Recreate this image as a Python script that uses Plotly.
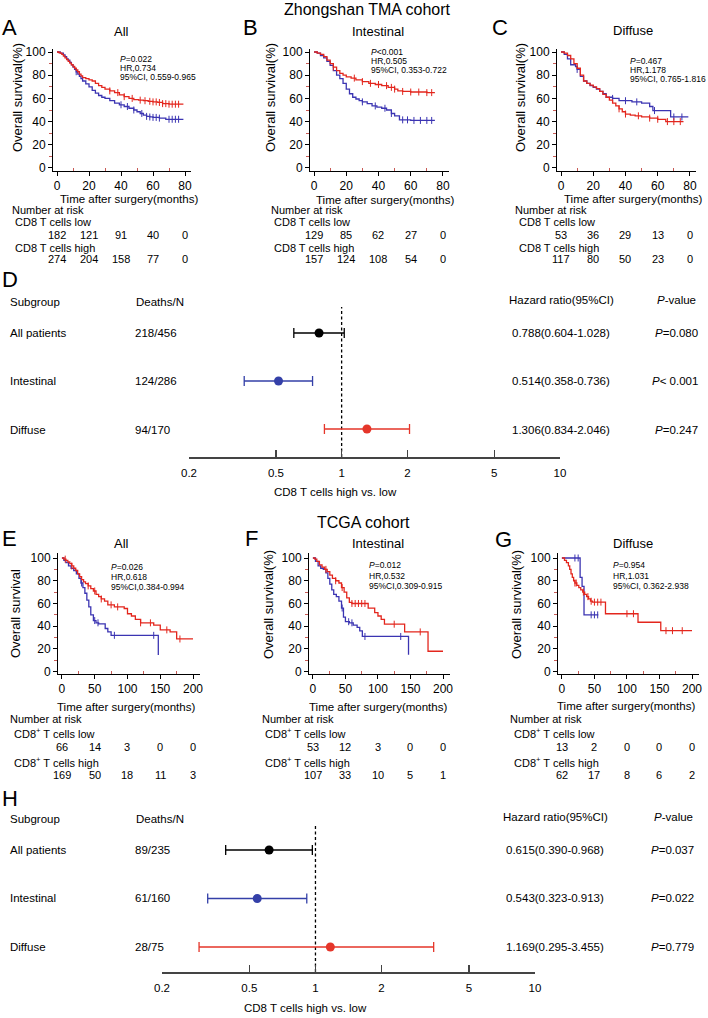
import numpy as np
import plotly.graph_objects as go

W, H = 708, 1018
FONT = "Liberation Sans, Arial, Helvetica, sans-serif"
RED = "#e3261d"
BLUE = "#3b34b2"
FBLUE = "#3440a8"
FRED = "#e5362a"

# ---------------- Kaplan-Meier data (months, survival %) ----------------
# Zhongshan TMA - All
A_low_t = [0, 2, 4, 5, 6, 7, 8, 9, 10, 11, 12, 13, 14, 15, 16, 18, 20, 22, 24, 26, 28, 30, 33, 36, 39, 42, 45, 48, 50, 52, 54, 56, 58, 60, 64, 68, 72, 79]
A_low_s = [100, 99, 97.5, 96, 94, 93, 91, 89, 87, 85, 83, 81, 79, 77, 75, 72.5, 70, 67, 64.5, 62.5, 61, 60, 58, 56, 54.5, 53, 51.5, 50, 48.5, 47, 45.5, 44.5, 44, 43.6, 43, 42, 42, 42]
A_low_c = [12, 40, 44, 48, 53, 56, 58, 60, 62, 64, 70, 72, 74, 76]
A_high_t = [0, 1, 2, 3, 4, 5, 6, 7, 8, 9, 10, 11, 12, 13, 14, 15, 16, 18, 20, 22, 24, 26, 28, 30, 33, 36, 39, 42, 45, 48, 51, 54, 57, 60, 63, 66, 70, 74, 79]
A_high_s = [100, 99.6, 99, 98, 96.5, 95, 93.5, 92, 90.5, 89, 87.5, 86, 84.5, 83, 81, 79.5, 78, 77, 76, 75, 73, 71, 69.5, 68, 66.5, 65, 63, 61.5, 60, 59, 58.5, 58, 57.5, 57, 56.5, 55.5, 55, 55, 55]
A_high_c = [33, 38, 42, 47, 52, 55, 58, 60, 62, 64, 66, 68, 70, 72, 74, 76]

# Zhongshan TMA - Intestinal
B_low_t = [0, 2, 4, 6, 8, 10, 12, 14, 16, 18, 20, 22, 24, 26, 28, 30, 33, 36, 39, 42, 45, 48, 50, 53, 60, 70, 75]
B_low_s = [100, 99, 97, 95, 92, 88.5, 84, 80, 77, 73, 68, 64, 61, 59.5, 58, 57, 55.5, 53.5, 52.5, 51.5, 50, 47, 45, 41.5, 41, 41, 41]
B_low_c = [30, 38, 44, 48, 55, 58, 62, 66, 70, 73]
B_high_t = [0, 2, 4, 6, 8, 10, 12, 14, 16, 18, 20, 23, 26, 30, 34, 38, 42, 46, 50, 52, 55, 60, 65, 70, 75]
B_high_s = [100, 99, 98, 96, 93, 90, 87, 84, 81.5, 80, 78.5, 77.5, 76, 74.5, 73, 72, 71, 69.5, 68, 66.5, 66, 65.5, 65.5, 65, 65]
B_high_c = [12, 25, 30, 35, 40, 45, 48, 50, 55, 60, 65, 70, 73]

# Zhongshan TMA - Diffuse
C_low_t = [0, 2, 4, 6, 9, 10, 12, 14, 16, 18, 20, 22, 24, 26, 28, 32, 36, 40, 44, 50, 55, 57, 62, 68, 79]
C_low_s = [100, 98, 94, 89, 87.5, 85, 79, 75, 73, 71, 69.5, 68, 66, 64, 61, 60, 58, 58, 57, 56, 53, 49.5, 49.5, 44, 44]
C_low_c = [10, 32, 40, 47, 58, 70, 75]
C_high_t = [0, 2, 4, 6, 8, 10, 12, 14, 16, 18, 20, 22, 24, 26, 28, 30, 32, 34, 36, 38, 40, 43, 46, 50, 55, 60, 65, 76]
C_high_s = [100, 99, 97, 94, 90, 86, 80, 75, 73, 71.5, 70, 68.5, 66, 63.5, 61, 58.5, 56, 53.5, 51, 48.5, 46.5, 45.5, 45, 44, 43, 42, 40, 40]
C_high_c = [36, 40, 48, 55, 60, 66, 70, 74]

# TCGA - All
E_low_t = [0, 3, 6, 10, 14, 18, 22, 26, 29, 32, 35, 38, 41, 44, 48, 52, 56, 62, 66, 70, 75, 80, 145, 147]
E_low_s = [100, 98, 96, 93, 91, 89, 86, 82, 78, 74, 69, 63, 57, 50, 45, 43, 42, 42, 38, 35, 32, 32, 32, 14.7]
E_low_c = [30, 50, 55, 80, 140]
E_high_t = [0, 3, 6, 9, 12, 15, 18, 21, 24, 27, 30, 33, 36, 40, 44, 48, 52, 56, 60, 65, 70, 80, 95, 100, 106, 112, 120, 140, 150, 165, 175, 200]
E_high_s = [100, 99, 98, 96.5, 95, 93, 91, 89, 86, 83.5, 81, 79, 77.5, 75.5, 73, 71, 68, 66, 64, 62, 58.8, 57, 55.6, 51, 49, 46, 43, 41, 36.8, 35, 28.8, 28.8]
E_high_c = [5, 15, 40, 50, 60, 75, 85, 120, 135, 160, 180]

# TCGA - Intestinal
F_low_t = [0, 4, 8, 12, 16, 20, 23, 26, 29, 32, 36, 40, 44, 47, 50, 56, 62, 68, 72, 76, 145, 147]
F_low_s = [100, 97, 93, 91, 90, 87, 82, 77, 72, 68, 66, 62, 56, 48, 44, 43, 41, 39, 36, 31, 31, 15]
F_low_c = [45, 55, 60, 80, 135]
F_high_t = [0, 3, 6, 10, 14, 18, 22, 26, 30, 35, 40, 44, 48, 52, 56, 60, 85, 95, 100, 105, 110, 141, 177, 200]
F_high_s = [100, 99, 97, 94, 92, 90, 88, 85, 82, 80, 78, 74, 70, 65, 61, 60, 56, 52, 49, 46, 41.8, 35, 18, 18]
F_high_c = [20, 35, 45, 60, 65, 70, 75, 80, 125, 165]

# TCGA - Diffuse
G_low_t = [0, 28, 31, 34, 56]
G_low_s = [100, 83, 75, 50, 50]
G_low_c = [20, 25, 45, 50, 55]
G_high_t = [0, 4, 7, 10, 12, 14, 16, 18, 20, 23, 26, 29, 32, 35, 38, 41, 44, 47, 65, 67, 117, 152, 200]
G_high_s = [100, 98, 96, 93, 90, 86, 83, 80, 78, 76, 74, 72, 70, 68, 66, 64, 62, 61.2, 61.2, 51, 43.5, 36.1, 36.1]
G_high_c = [20, 22, 33, 40, 45, 50, 55, 60, 100, 110, 160, 170, 185]

# ---------------- Numbers at risk ----------------
risk_times_top = [0, 20, 40, 60, 80]
risk_times_bot = [0, 50, 100, 150, 200]
A_risk_low = [182, 121, 91, 40, 0]
A_risk_high = [274, 204, 158, 77, 0]
B_risk_low = [129, 85, 62, 27, 0]
B_risk_high = [157, 124, 108, 54, 0]
C_risk_low = [53, 36, 29, 13, 0]
C_risk_high = [117, 80, 50, 23, 0]
E_risk_low = [66, 14, 3, 0, 0]
E_risk_high = [169, 50, 18, 11, 3]
F_risk_low = [53, 12, 3, 0, 0]
F_risk_high = [107, 33, 10, 5, 1]
G_risk_low = [13, 2, 0, 0, 0]
G_risk_high = [62, 17, 8, 6, 2]

# ---------------- Stats text ----------------
A_stats = ["<i>P</i>=0.022", "HR,0.734", "95%CI, 0.559-0.965"]
B_stats = ["<i>P</i><0.001", "HR,0.505", "95%CI, 0.353-0.722"]
C_stats = ["<i>P</i>=0.467", "HR,1.178", "95%CI, 0.765-1.816"]
E_stats = ["<i>P</i>=0.026", "HR,0.618", "95%CI,0.384-0.994"]
F_stats = ["<i>P</i>=0.012", "HR,0.532", "95%CI,0.309-0.915"]
G_stats = ["<i>P</i>=0.954", "HR,1.031", "95%CI, 0.362-2.938"]

# ---------------- Forest data ----------------
subgroups = ["All patients", "Intestinal", "Diffuse"]
D_deaths = ["218/456", "124/286", "94/170"]
D_hr = [0.788, 0.514, 1.306]
D_lo = [0.604, 0.358, 0.834]
D_hi = [1.028, 0.736, 2.046]
D_p = ["<i>P</i>=0.080", "<i>P</i>< 0.001", "<i>P</i>=0.247"]
H_deaths = ["89/235", "61/160", "28/75"]
H_hr = [0.615, 0.543, 1.169]
H_lo = [0.390, 0.323, 0.295]
H_hi = [0.968, 0.913, 3.455]
H_p = ["<i>P</i>=0.037", "<i>P</i>=0.022", "<i>P</i>=0.779"]
forest_ticks = [0.2, 0.5, 1, 2, 5, 10]
forest_colors = ["black", FBLUE, FRED]


def fmt(v):
    return "%.3f(%.3f-%.3f)" % v


def px_x(p):
    return p / W


def px_y(p):
    return 1 - p / H


fig = go.Figure()
layout = dict(template="none", width=W, height=H, margin=dict(l=0, r=0, t=0, b=0, pad=0),
              autosize=False,
              paper_bgcolor="white", plot_bgcolor="white", showlegend=False,
              font=dict(family=FONT, color="black"))
annotations = []


def ann(text, x, y, size, xanchor="center", yanchor="middle", angle=0,
        xref="paper", yref="paper"):
    annotations.append(dict(text=text, x=x if xref != "paper" else px_x(x),
                            y=px_y(y) if yref == "paper" else y,
                            xref=xref, yref=yref, showarrow=False,
                            xanchor=xanchor, yanchor=yanchor, textangle=angle,
                            font=dict(size=size, family=FONT, color="black")))


def step_val(t, s, c):
    i = np.searchsorted(np.array(t), c, side="right") - 1
    return s[i]


km = [
    dict(i=1, low=(A_low_t, A_low_s, A_low_c), high=(A_high_t, A_high_s, A_high_c),
         xt=[0, 20, 40, 60, 80], xm=[10, 30, 50, 70], xr=[-2.5, 83.5], xd=(53, 190.6),
         yd=(49, 171), yr=[-2.6, 102.6], rt=risk_times_top, rl=A_risk_low, rh=A_risk_high,
         st=A_stats, stx=118, sty=[59, 68, 77], title="All", tx=121, ty=32, letter="A", lx=9, ly=28,
         ylab="Overall survival(%)", ylx=17, yly=98, xlx=129, xly=199,
         nx=10, lbx=13, ry=[210, 222, 235, 248, 259], lab="CD8 T cells"),
    dict(i=2, low=(B_low_t, B_low_s, B_low_c), high=(B_high_t, B_high_s, B_high_c),
         xt=[0, 20, 40, 60, 80], xm=[10, 30, 50, 70], xr=[-2.5, 83.5], xd=(310, 448.6),
         yd=(49, 171), yr=[-2.6, 102.6], rt=risk_times_top, rl=B_risk_low, rh=B_risk_high,
         st=B_stats, stx=369, sty=[52, 61, 70], title="Intestinal", tx=378, ty=32, letter="B", lx=250, ly=28,
         ylab="Overall survival(%)", ylx=270, yly=98, xlx=385, xly=200,
         nx=269, lbx=272, ry=[210, 222, 235, 248, 259], lab="CD8 T cells"),
    dict(i=3, low=(C_low_t, C_low_s, C_low_c), high=(C_high_t, C_high_s, C_high_c),
         xt=[0, 20, 40, 60, 80], xm=[10, 30, 50, 70], xr=[-2.5, 83.5], xd=(557, 695.6),
         yd=(49, 171), yr=[-2.6, 102.6], rt=risk_times_top, rl=C_risk_low, rh=C_risk_high,
         st=C_stats, stx=628, sty=[61, 70, 79], title="Diffuse", tx=633, ty=31, letter="C", lx=500, ly=28,
         ylab="Overall survival(%)", ylx=520, yly=98, xlx=633, xly=199,
         nx=513, lbx=517, ry=[210, 222, 235, 248, 259], lab="CD8 T cells"),
    dict(i=4, low=(E_low_t, E_low_s, E_low_c), high=(E_high_t, E_high_s, E_high_c),
         xt=[0, 50, 100, 150, 200], xm=[25, 75, 125, 175], xr=[-6, 210], xd=(58, 199.6),
         yd=(553, 674), yr=[-2, 104.4], rt=risk_times_bot, rl=E_risk_low, rh=E_risk_high,
         st=E_stats, stx=109, sty=[567, 577, 587], title="All", tx=121, ty=543, letter="E", lx=9, ly=538,
         ylab="Overall survival", ylx=15, yly=614, xlx=126, xly=707,
         nx=8, lbx=12, ry=[719, 733, 747, 762, 775], lab="CD8<sup>+</sup> T cells"),
    dict(i=5, low=(F_low_t, F_low_s, F_low_c), high=(F_high_t, F_high_s, F_high_c),
         xt=[0, 50, 100, 150, 200], xm=[25, 75, 125, 175], xr=[-6, 210], xd=(309, 449.5),
         yd=(553, 674), yr=[-2, 104.4], rt=risk_times_bot, rl=F_risk_low, rh=F_risk_high,
         st=F_stats, stx=367, sty=[565, 576, 586], title="Intestinal", tx=378, ty=543, letter="F", lx=251, ly=538,
         ylab="Overall survival(%)", ylx=268, yly=605, xlx=378, xly=707,
         nx=260, lbx=263, ry=[719, 733, 747, 762, 775], lab="CD8<sup>+</sup> T cells"),
    dict(i=6, low=(G_low_t, G_low_s, G_low_c), high=(G_high_t, G_high_s, G_high_c),
         xt=[0, 50, 100, 150, 200], xm=[25, 75, 125, 175], xr=[-6, 210], xd=(558, 698.5),
         yd=(553, 674), yr=[-2, 104.4], rt=risk_times_bot, rl=G_risk_low, rh=G_risk_high,
         st=G_stats, stx=611, sty=[565, 576, 586], title="Diffuse", tx=633, ty=543, letter="G", lx=503, ly=539,
         ylab="Overall survival(%)", ylx=516, yly=605, xlx=626, xly=706,
         nx=508, lbx=512, ry=[719, 733, 747, 762, 775], lab="CD8<sup>+</sup> T cells"),
]

for p in km:
    i = p["i"]
    xa = "x" if i == 1 else "x%d" % i
    ya = "y" if i == 1 else "y%d" % i
    for (t, s, c), col in [(p["low"], BLUE), (p["high"], RED)]:
        fig.add_trace(go.Scatter(x=t, y=s, mode="lines", line=dict(color=col, width=1.3, shape="hv"),
                                 xaxis=xa, yaxis=ya, hoverinfo="skip"))
        cy = [step_val(t, s, cc) for cc in c]
        fig.add_trace(go.Scatter(x=c, y=cy, mode="markers",
                                 marker=dict(symbol="line-ns", size=5, line=dict(width=1, color=col)),
                                 xaxis=xa, yaxis=ya, hoverinfo="skip"))
    xk = "xaxis" if i == 1 else "xaxis%d" % i
    yk = "yaxis" if i == 1 else "yaxis%d" % i
    layout[xk] = dict(domain=[px_x(p["xd"][0]), px_x(p["xd"][1])], range=p["xr"], anchor=ya,
                      automargin=False,
                      showline=True, linecolor="black", linewidth=1, ticks="outside", ticklen=4,
                      tickcolor="black", tickvals=p["xt"], tickfont=dict(size=12, family=FONT),
                      showgrid=False, zeroline=False,
                      minor=dict(tickvals=p["xm"], ticks="inside", ticklen=3, tickcolor="#c85a55", showgrid=False))
    layout[yk] = dict(domain=[px_y(p["yd"][1]), px_y(p["yd"][0])], range=p["yr"], anchor=xa,
                      automargin=False,
                      showline=True, linecolor="black", linewidth=1, ticks="outside", ticklen=4,
                      tickcolor="black", tickvals=[0, 20, 40, 60, 80, 100], tickfont=dict(size=12, family=FONT),
                      showgrid=False, zeroline=False,
                      minor=dict(tickvals=[10, 30, 50, 70, 90], ticks="outside", ticklen=3, tickcolor="#c85a55", showgrid=False))
    ann(p["letter"], p["lx"], p["ly"], 22)
    ann(p["title"], p["tx"], p["ty"], 13)
    ann(p["ylab"], p["ylx"], p["yly"], 13, angle=-90)
    ann("Time after surgery(months)", p["xlx"], p["xly"], 11.5)
    for k, line in enumerate(p["st"]):
        ann(line, p["stx"], p["sty"][k], 8.5, xanchor="left")
    ry = p["ry"]
    ann("Number at risk", p["nx"], ry[0], 11, xanchor="left")
    ann(p["lab"] + " low", p["lbx"], ry[1], 11, xanchor="left")
    ann(p["lab"] + " high", p["lbx"], ry[3], 11, xanchor="left")
    for tt, v in zip(p["rt"], p["rl"]):
        ann(str(v), tt, ry[2], 11, xref=xa)
    for tt, v in zip(p["rt"], p["rh"]):
        ann(str(v), tt, ry[4], 11, xref=xa)

ann("Zhongshan TMA cohort", 367, 9, 16)
ann("TCGA cohort", 363, 522, 16)

# ---------------- Forest plots ----------------
forests = [
    dict(i=7, hr=D_hr, lo=D_lo, hi=D_hi, deaths=D_deaths, p=D_p, xd=(189, 560), yd=(295, 457),
         yr=[0.4167, 0.4167 + 162 / 48.0], top=3.54, letter="D", ly=280, hy=300, rows=[333, 381, 430],
         hrx=561, pcx=676, prx=700, xt_y=492, xt_x=335),
    dict(i=8, hr=H_hr, lo=H_lo, hi=H_hi, deaths=H_deaths, p=H_p, xd=(162, 535), yd=(810, 972),
         yr=[0.485, 0.485 + 162 / 48.5], top=3.516, letter="H", ly=798, hy=817, rows=[850, 898, 947],
         hrx=555, pcx=673, prx=696, xt_y=1008, xt_x=305),
]
for f in forests:
    i = f["i"]
    xa, ya = "x%d" % i, "y%d" % i
    fig.add_trace(go.Scatter(x=[1, 1], y=[f["yr"][0], f["top"]], mode="lines",
                             line=dict(color="black", width=1.3, dash="3px,2.5px"),
                             xaxis=xa, yaxis=ya, hoverinfo="skip"))
    rows_y = [3, 2, 1]
    for k in range(3):
        col = forest_colors[k]
        fig.add_trace(go.Scatter(
            x=[f["hr"][k]], y=[rows_y[k]], mode="markers",
            marker=dict(color=col, size=9),
            error_x=dict(type="data", symmetric=False, array=[f["hi"][k] - f["hr"][k]],
                         arrayminus=[f["hr"][k] - f["lo"][k]], color=col, thickness=1.3, width=5),
            xaxis=xa, yaxis=ya, hoverinfo="skip"))
    layout["xaxis%d" % i] = dict(domain=[px_x(f["xd"][0]), px_x(f["xd"][1])], type="log",
                                 range=[np.log10(0.2), 1], anchor=ya, showline=True, linecolor="#444",
                                 automargin=False,
                                 linewidth=1.5, ticks="inside", ticklen=7, tickwidth=1.5, tickcolor="#444",
                                 tickvals=forest_ticks, ticktext=[str(v) for v in forest_ticks],
                                 tickfont=dict(size=11.5, family=FONT), ticklabelstandoff=5,
                                 showgrid=False, zeroline=False)
    layout["yaxis%d" % i] = dict(domain=[px_y(f["yd"][1]), px_y(f["yd"][0])], range=f["yr"],
                                 anchor=xa, visible=False, showgrid=False, zeroline=False, automargin=False)
    ann(f["letter"], 10, f["ly"], 22)
    ann("Subgroup", 8, f["hy"] + 2, 11.5, xanchor="left")
    ann("Deaths/N", 134, f["hy"] + 2, 11.5, xanchor="left")
    ann("Hazard ratio(95%CI)", f["hrx"], f["hy"], 11.5)
    ann("<i>P</i>-value", f["pcx"], f["hy"], 11.5)
    for k in range(3):
        ann(subgroups[k], 8, f["rows"][k], 11.5, xanchor="left")
        ann(f["deaths"][k], 133, f["rows"][k], 11.5, xanchor="left")
        ann(fmt((f["hr"][k], f["lo"][k], f["hi"][k])), f["hrx"], f["rows"][k], 11.5)
        ann(f["p"][k], f["prx"], f["rows"][k], 11.5, xanchor="right")
    ann("CD8 T cells high vs. low", f["xt_x"], f["xt_y"], 11.5)

layout["annotations"] = annotations
fig.update_layout(**layout)
fig.write_html("out.html", config={"displayModeBar": False, "staticPlot": True},
               post_script="document.body.style.margin='0px';document.body.style.overflow='hidden';")
